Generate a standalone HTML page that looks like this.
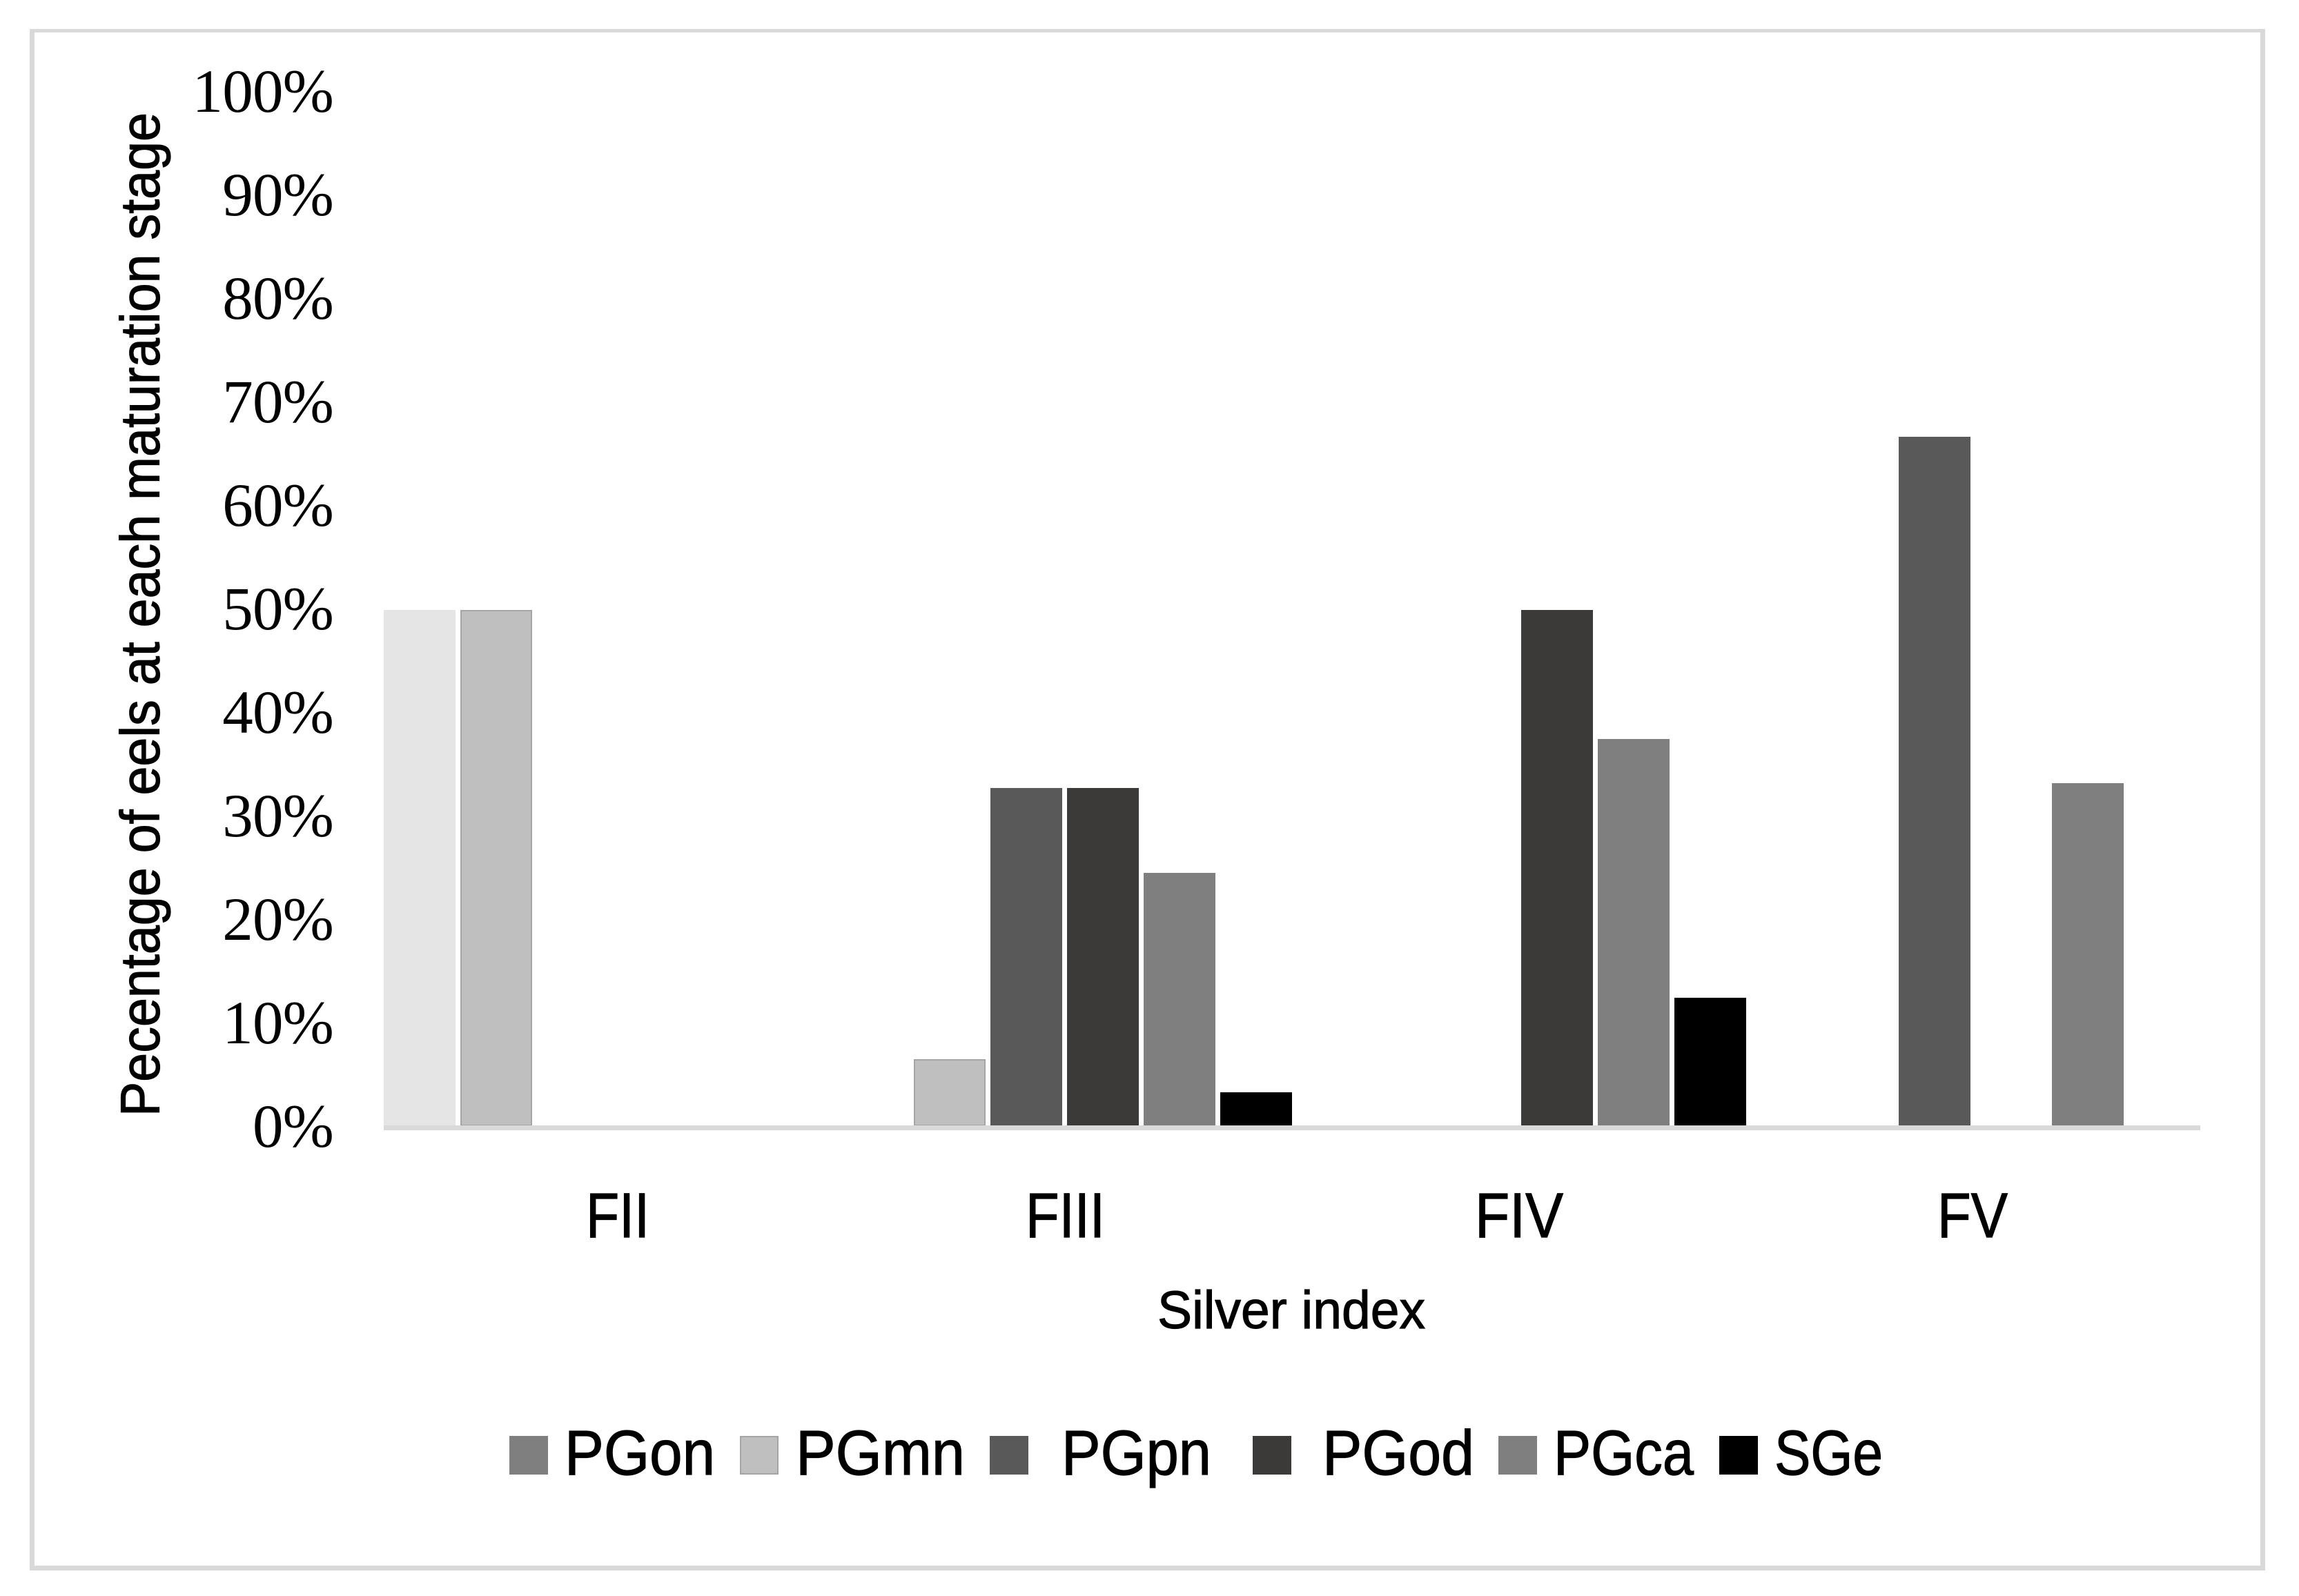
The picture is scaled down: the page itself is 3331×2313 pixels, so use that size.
<!DOCTYPE html>
<html lang="en">
<head>
<meta charset="utf-8">
<title>Percentage of eels at each maturation stage</title>
<style>
html,body{margin:0;padding:0;background:#fff;width:3331px;height:2313px;overflow:hidden}
svg{display:block}
.sans{font-family:"Liberation Sans",sans-serif;fill:#000;stroke:#000;stroke-width:1.2px}
.serif{font-family:"Liberation Serif",serif;fill:#000;letter-spacing:-0.8px}
</style>
</head>
<body>
<svg id="chart" xmlns="http://www.w3.org/2000/svg" width="3331" height="2313" viewBox="0 0 3331 2313">
  <rect x="0" y="0" width="3331" height="2313" fill="#ffffff"/>
  <g fill="#d9d9d9" shape-rendering="crispEdges">
    <rect x="43" y="42" width="3239" height="5"/>
    <rect x="43" y="42" width="7" height="2234"/>
    <rect x="3275" y="42" width="7" height="2234"/>
    <rect x="43" y="2269" width="3239" height="7"/>
  </g>
  <g id="bars" shape-rendering="crispEdges"></g>
  <rect x="556" y="1631" width="2632" height="7" fill="#d9d9d9" shape-rendering="crispEdges"/>
  <g id="y-ticks"></g>
  <text class="sans" transform="translate(230.5 1618) rotate(-90)" font-size="80" textLength="1455" lengthAdjust="spacingAndGlyphs">Pecentage of eels at each maturation stage</text>
  <g font-size="92">
    <text class="sans" x="849" y="1793" textLength="92" lengthAdjust="spacingAndGlyphs">FII</text>
    <text class="sans" x="1486" y="1793" textLength="115" lengthAdjust="spacingAndGlyphs">FIII</text>
    <text class="sans" x="2137" y="1793" textLength="128" lengthAdjust="spacingAndGlyphs">FIV</text>
    <text class="sans" x="2807" y="1793" textLength="102" lengthAdjust="spacingAndGlyphs">FV</text>
  </g>
  <text class="sans" x="1677" y="1925" font-size="77" textLength="388" lengthAdjust="spacingAndGlyphs">Silver index</text>
  <g font-size="92">
    <g>
      <rect x="738" y="2081" width="56" height="56" fill="#7f7f7f" shape-rendering="crispEdges"/>
      <text class="sans" x="818" y="2137" textLength="218" lengthAdjust="spacingAndGlyphs">PGon</text>
    </g>
    <g>
      <rect x="1073" y="2082" width="54" height="54" fill="#bfbfbf" stroke="#a5a5a5" stroke-width="2" shape-rendering="crispEdges"/>
      <text class="sans" x="1153" y="2137" textLength="245" lengthAdjust="spacingAndGlyphs">PGmn</text>
    </g>
    <g>
      <rect x="1434" y="2081" width="56" height="56" fill="#595959" shape-rendering="crispEdges"/>
      <text class="sans" x="1538" y="2137" textLength="217" lengthAdjust="spacingAndGlyphs">PGpn</text>
    </g>
    <g>
      <rect x="1815" y="2081" width="56" height="56" fill="#3b3a38" shape-rendering="crispEdges"/>
      <text class="sans" x="1916" y="2137" textLength="220" lengthAdjust="spacingAndGlyphs">PGod</text>
    </g>
    <g>
      <rect x="2171" y="2081" width="56" height="56" fill="#7f7f7f" shape-rendering="crispEdges"/>
      <text class="sans" x="2251" y="2137" textLength="203" lengthAdjust="spacingAndGlyphs">PGca</text>
    </g>
    <g>
      <rect x="2491" y="2081" width="56" height="56" fill="#000000" shape-rendering="crispEdges"/>
      <text class="sans" x="2571" y="2137" textLength="157" lengthAdjust="spacingAndGlyphs">SGe</text>
    </g>
  </g>
</svg>
<script>
const categories = ['FII', 'FIII', 'FIV', 'FV'];
const seriesNames = ['PGon', 'PGmn', 'PGpn', 'PGod', 'PGca', 'SGe'];
const pgonValues = [50, 0, 0, 0];
const pgmnValues = [50, 6.4, 0, 0];
const pgpnValues = [0, 32.7, 0, 66.8];
const pgodValues = [0, 32.7, 50, 0];
const pgcaValues = [0, 24.5, 37.5, 33.2];
const sgeValues = [0, 3.2, 12.4, 0];
const yTickValues = [0, 10, 20, 30, 40, 50, 60, 70, 80, 90, 100];
const yTickLabels = ['0%', '10%', '20%', '30%', '40%', '50%', '60%', '70%', '80%', '90%', '100%'];

const SVG_NS = 'http://www.w3.org/2000/svg';
const allSeries = [pgonValues, pgmnValues, pgpnValues, pgodValues, pgcaValues, sgeValues];
const barFills = ['#e5e5e5', '#bfbfbf', '#595959', '#3b3a38', '#7f7f7f', '#000000'];
const barWidth = 104;

function yScale(v) { return 1631 - v * 14.94; }
function tickBaseline(v) { return 1662 - v * 15; }
function xScale(categoryIndex, seriesIndex) {
  return Math.round(555.6 + 657.8 * categoryIndex + 111 * seriesIndex);
}

const barsGroup = document.getElementById('bars');
allSeries.forEach(function (values, s) {
  values.forEach(function (value, c) {
    if (value <= 0) { return; }
    const rect = document.createElementNS(SVG_NS, 'rect');
    const top = Math.round(yScale(value));
    const outlined = seriesNames[s] === 'PGmn';
    rect.setAttribute('x', outlined ? xScale(c, s) + 1 : xScale(c, s));
    rect.setAttribute('y', outlined ? top + 1 : top);
    rect.setAttribute('width', outlined ? barWidth - 2 : barWidth);
    rect.setAttribute('height', outlined ? 1631 - top - 1 : 1631 - top);
    rect.setAttribute('fill', barFills[s]);
    if (outlined) {
      rect.setAttribute('stroke', '#a5a5a5');
      rect.setAttribute('stroke-width', '2');
    }
    
    
    barsGroup.appendChild(rect);
  });
});

const tickGroup = document.getElementById('y-ticks');
yTickValues.forEach(function (value, i) {
  const label = document.createElementNS(SVG_NS, 'text');
  label.setAttribute('class', 'serif');
  label.setAttribute('x', '483');
  label.setAttribute('y', tickBaseline(value));
  label.setAttribute('text-anchor', 'end');
  label.setAttribute('font-size', '89');
  
  
  label.textContent = yTickLabels[i];
  tickGroup.appendChild(label);
});
</script>
</body>
</html>
